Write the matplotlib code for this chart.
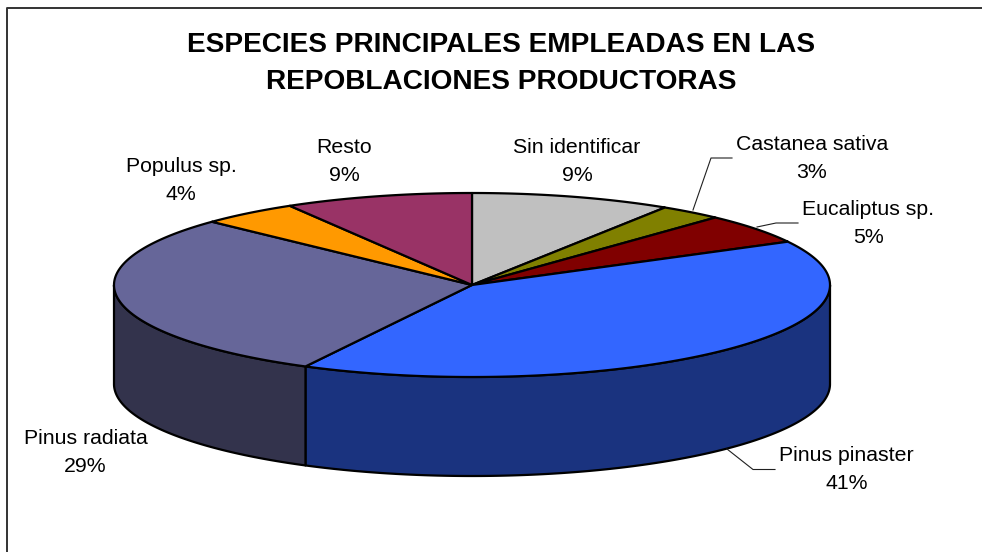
import numpy as np
import matplotlib
matplotlib.use("Agg")
import matplotlib.pyplot as plt
from matplotlib.patches import Polygon

plt.rcParams['font.family'] = ['Liberation Sans', 'DejaVu Sans']

# Data
categories = ["Sin identificar", "Castanea sativa", "Eucaliptus sp.", "Pinus pinaster",
              "Pinus radiata", "Populus sp.", "Resto"]
values = [9.06, 2.84, 5.3, 40.5, 29.36, 4.44, 8.5]
percent_labels = ["9%", "3%", "5%", "41%", "29%", "4%", "9%"]
top_colors = ["#C0C0C0", "#808000", "#800000", "#3366FF", "#666699", "#FF9900", "#993366"]
side_colors = ["#606060", "#404000", "#400000", "#1A337F", "#33334C", "#804C00", "#4C1933"]
title_lines = "ESPECIES PRINCIPALES EMPLEADAS EN LAS\nREPOBLACIONES PRODUCTORAS"

# Layout (pixels): label centre x, first and second baselines
CX, CY, RX, RY, DEPTH = 472, 285, 358, 92, 99
label_pos = [(577, 153, 181), (812, 150, 178), (868.5, 215, 243), (846.5, 461, 489),
             (85.5, 444, 472), (181, 172, 200), (344, 153, 181)]
leaders = {1: [(693, 210), (711, 158), (732, 158)],
           2: [(757, 227), (776, 223), (798, 223)],
           3: [(727, 449), (753, 469.5), (775, 469.5)]}

fig = plt.figure(figsize=(9.82, 5.52), dpi=100)
ax = fig.add_axes([0, 0, 1, 1])
ax.set_xlim(0, 982)
ax.set_ylim(552, 0)
ax.axis("off")


def rim(t0, t1, dy=0.0):
    t = np.radians(np.linspace(t0, t1, max(int(abs(t1 - t0) * 2), 2)))
    return np.column_stack([CX + RX * np.sin(t), CY + dy - RY * np.cos(t)])


LW = 1.6
edges = np.concatenate([[0], np.cumsum(values)]) / sum(values) * 360

# Side walls (front half of the disc only)
for i in range(len(values)):
    a, b = max(edges[i], 90), min(edges[i + 1], 270)
    if a < b:
        pts = np.vstack([rim(a, b), rim(a, b, DEPTH)[::-1]])
        ax.add_patch(Polygon(pts, closed=True, fc=side_colors[i], ec="black", lw=LW,
                             joinstyle="round", zorder=2))

# Top slices
for i in range(len(values)):
    pts = np.vstack([[CX, CY], rim(edges[i], edges[i + 1])])
    ax.add_patch(Polygon(pts, closed=True, fc=top_colors[i], ec="black", lw=LW,
                         joinstyle="round", zorder=3))

# Leader lines
for pts in leaders.values():
    xs, ys = zip(*pts)
    ax.plot(xs, ys, color="#202020", lw=0.8, zorder=4)

# Labels
for name, pct, (x, y1, y2) in zip(categories, percent_labels, label_pos):
    ax.text(x, y1, name, ha="center", va="baseline", fontsize=15.3, color="black")
    ax.text(x, y2, pct, ha="center", va="baseline", fontsize=15.3, color="black")

# Title
for line, y in zip(title_lines.split("\n"), (52, 89)):
    ax.text(501.5, y, line, ha="center", va="baseline", fontsize=20.2,
            fontweight="bold", color="black")

# Frame: left and top edges
ax.plot([7.5, 7.5, 982], [552, 7.5, 7.5], color="#333333", lw=1.4, zorder=1)

fig.savefig("out.png", dpi=100)
